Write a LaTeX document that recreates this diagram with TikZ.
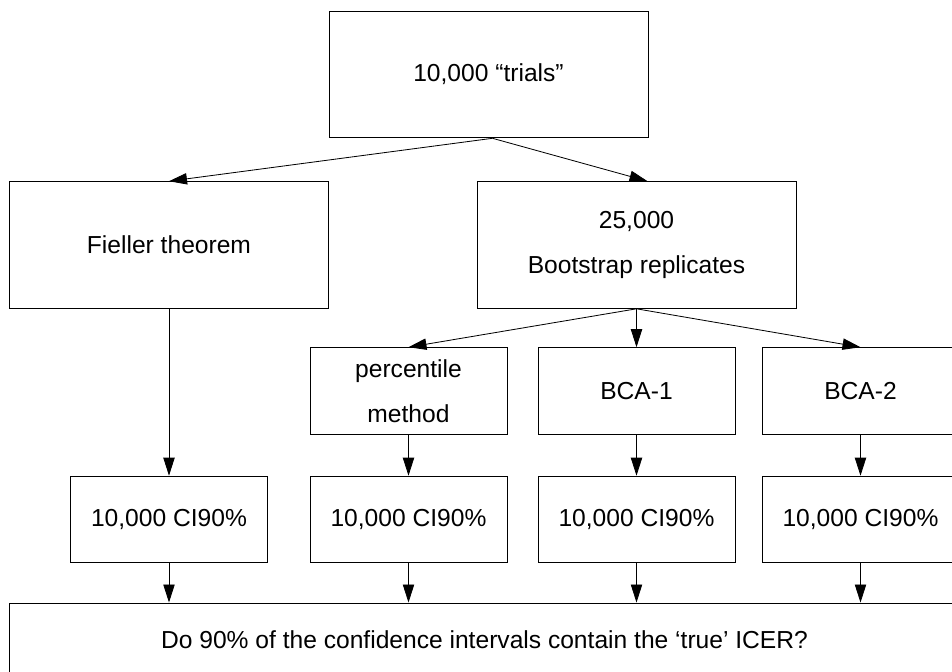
\documentclass[tikz,border=0pt]{standalone}
\usepackage{fontspec}
\setmainfont{Liberation Sans}
\usetikzlibrary{arrows.meta}

\begin{document}
\begin{tikzpicture}[
  x=0.3mm, y=-0.3mm,
  >={Triangle[length=5.4mm, width=3.4mm]},
  box/.style={draw, line width=0.8pt, align=center, inner sep=0pt,
              font=\fontsize{21}{38}\selectfont},
  big/.style={box, minimum width=95.7mm, minimum height=38mm},
  small/.style={box, minimum width=59.1mm, minimum height=26mm},
  arr/.style={->, line width=0.7pt},
]
\useasboundingbox (0,0) rectangle (952,672);
\fill[white] (0,0) rectangle (952,672);
\clip (0,0) rectangle (952,672);
\node[big] (trials) at (488.5,74.5) {10,000 “trials”};
\node[big] (fieller) at (169,245) {Fieller theorem};
\node[big] (boot) at (636.5,245) {25,000\\Bootstrap replicates};
\node[small] (pct) at (408.5,391) {percentile\\method};
\node[small] (bca1) at (636.5,391) {BCA-1};
\node[small] (bca2) at (860.5,391) {BCA-2};
\node[small] (ci1) at (169,519.5) {10,000 CI90\%};
\node[small] (ci2) at (408.5,519.5) {10,000 CI90\%};
\node[small] (ci3) at (636.5,519.5) {10,000 CI90\%};
\node[small] (ci4) at (860.5,519.5) {10,000 CI90\%};
\node[box, minimum width=285.3mm, minimum height=22.2mm] (check) at (484.5,640)
  {Do 90\% of the confidence intervals contain the ‘true’ ICER?};
\draw[arr] ([xshift=1.2mm]trials.south) -- (fieller.north);
\draw[arr] ([xshift=1.2mm]trials.south) -- ([xshift=3.3mm]boot.north);
\draw[arr] (boot.south) -- (pct.north);
\draw[arr] (boot.south) -- (bca1.north);
\draw[arr] (boot.south) -- (bca2.north);
\draw[arr] (fieller) -- (ci1);
\draw[arr] (pct) -- (ci2);
\draw[arr] (bca1) -- (ci3);
\draw[arr] (bca2) -- (ci4);
\draw[arr] (ci1.south) -- (ci1.south |- check.north);
\draw[arr] (ci2.south) -- (ci2.south |- check.north);
\draw[arr] (ci3.south) -- (ci3.south |- check.north);
\draw[arr] (ci4.south) -- (ci4.south |- check.north);
\end{tikzpicture}
\end{document}
